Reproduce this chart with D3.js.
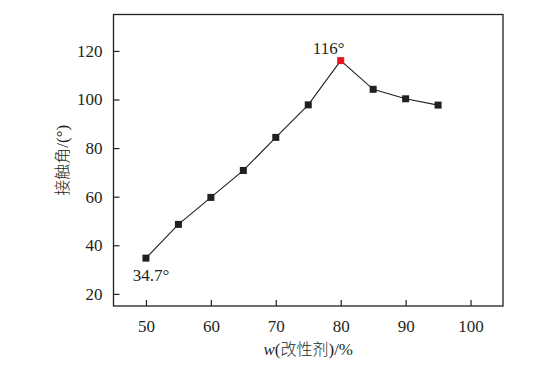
<!DOCTYPE html>
<html>
<head>
<meta charset="utf-8">
<script src="https://cdn.jsdelivr.net/npm/d3@7"></script>
<style>
  body { margin: 0; background: #fff; }
  svg { display: block; }
</style>
</head>
<body>
<svg id="chart" width="547" height="367"></svg>
<script>
// modifier mass fraction (%) and contact angle (deg)
var fractions = [50, 55, 60, 65, 70, 75, 80, 85, 90, 95];
var angles = [34.7, 48.6, 59.7, 70.8, 84.4, 97.8, 116, 104.2, 100.3, 97.7];
var xTicks = [50, 60, 70, 80, 90, 100];
var yTicks = [20, 40, 60, 80, 100, 120];
var peakIndex = 6;

var margin = { left: 113.5, top: 14.5, right: 44, bottom: 61 };
var svg = d3.select('#chart');
var width = +svg.attr('width') - margin.left - margin.right;
var height = +svg.attr('height') - margin.top - margin.bottom;
var ink = '#231f20';
var serif = 'Liberation Serif';
var cjk = 'Noto Sans CJK SC';

var x = d3.scaleLinear().domain([45, 105]).range([0, width]);
var y = d3.scaleLinear().domain([15, 135]).range([height, 0]);

var g = svg.append('g')
  .attr('transform', 'translate(' + margin.left + ',' + margin.top + ')');

// frame
g.append('rect')
  .attr('width', width).attr('height', height)
  .attr('fill', 'none').attr('stroke', ink).attr('stroke-width', 1.3);

var xAxis = g.append('g')
  .attr('transform', 'translate(0,' + height + ')')
  .call(d3.axisBottom(x).tickValues(xTicks).tickSizeInner(-6).tickSizeOuter(0).tickPadding(14));
var yAxis = g.append('g')
  .call(d3.axisLeft(y).tickValues(yTicks).tickSizeInner(-6).tickSizeOuter(0).tickPadding(11));
[xAxis, yAxis].forEach(function(a) {
  a.attr('font-family', null).attr('font-size', null);
  a.select('.domain').remove();
  a.selectAll('.tick line').attr('stroke', ink).attr('stroke-width', 1.2);
  a.selectAll('.tick text')
    .style('font-family', serif).style('font-size', '17px').attr('fill', ink);
});

var line = d3.line()
  .x(function(d, i) { return x(fractions[i]); })
  .y(function(d) { return y(d); });

g.append('path')
  .datum(angles)
  .attr('d', line)
  .attr('fill', 'none').attr('stroke', ink).attr('stroke-width', 1.1);

var s = 7;
g.selectAll('rect.pt')
  .data(angles)
  .enter().append('rect')
  .attr('class', 'pt')
  .attr('x', function(d, i) { return x(fractions[i]) - s / 2; })
  .attr('y', function(d) { return y(d) - s / 2; })
  .attr('width', s).attr('height', s)
  .attr('fill', function(d, i) { return i === peakIndex ? '#e8141c' : ink; });

// annotations
g.append('text')
  .attr('x', x(fractions[peakIndex]) - 12)
  .attr('y', y(angles[peakIndex]) - 7)
  .attr('text-anchor', 'middle')
  .style('font-family', serif).style('font-size', '17px').attr('fill', ink)
  .text('116°');
g.append('text')
  .attr('x', x(fractions[0]) + 5)
  .attr('y', y(angles[0]) + 23)
  .attr('text-anchor', 'middle')
  .style('font-family', serif).style('font-size', '17px').attr('fill', ink)
  .text('34.7°');

// axis titles
var xt = svg.append('text')
  .attr('x', margin.left + width / 2)
  .attr('y', 355)
  .attr('text-anchor', 'middle')
  .style('font-size', '16px').attr('fill', ink);
xt.append('tspan').style('font-family', serif).style('font-style', 'italic').style('font-size', '17px').text('w');
xt.append('tspan').style('font-family', serif).style('font-size', '17px').text('(');
xt.append('tspan').style('font-family', cjk).style('font-weight', 300).text('改性剂');
xt.append('tspan').style('font-family', serif).style('font-size', '17px').text(')/%');

var yt = svg.append('text')
  .attr('transform', 'translate(68,' + (margin.top + height / 2) + ') rotate(-90)')
  .attr('text-anchor', 'middle')
  .style('font-size', '16px').attr('fill', ink);
yt.append('tspan').style('font-family', cjk).style('font-weight', 300).text('接触角');
yt.append('tspan').style('font-family', serif).style('font-size', '17px').text('/(°)');
</script>
</body>
</html>
